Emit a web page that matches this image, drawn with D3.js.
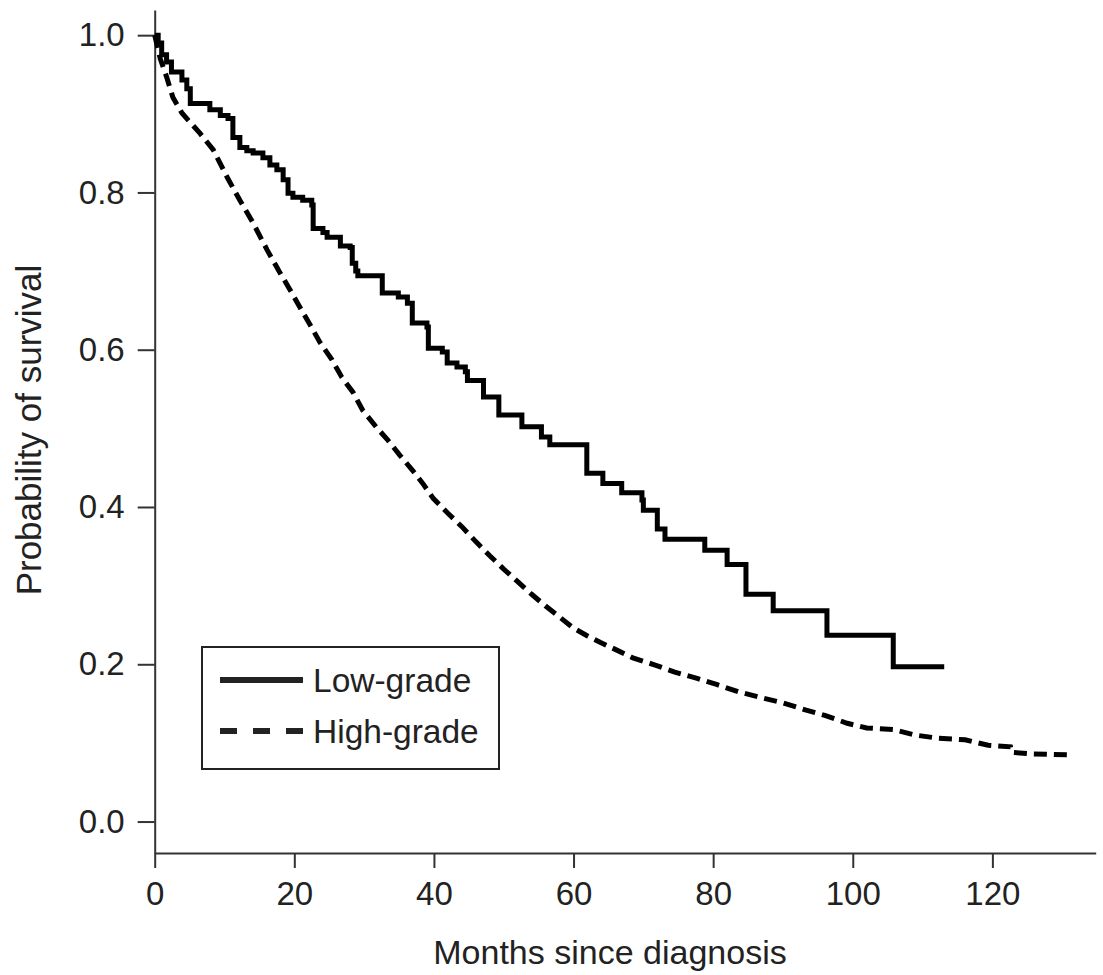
<!DOCTYPE html>
<html>
<head>
<meta charset="utf-8">
<script src="https://cdn.jsdelivr.net/npm/d3@7"></script>
<style>
  body { margin: 0; background: #fff; }
  svg text { font-family: "Liberation Sans", Arial, Helvetica, sans-serif; fill: #222; }
</style>
</head>
<body>
<div id="chart"></div>
<script>
// Kaplan-Meier steps: [months, survival]
var lowGrade = [
  [0, 1.0], [0.5, 0.99], [1.0, 0.975], [1.7, 0.966], [2.4, 0.953], [3.9, 0.943],
  [4.6, 0.932], [5.1, 0.913], [7.9, 0.905], [9.4, 0.898], [10.5, 0.894], [11.2, 0.870],
  [12.2, 0.857], [13.2, 0.853], [14.1, 0.850], [15.5, 0.844], [16.5, 0.835], [17.5, 0.829],
  [18.4, 0.816], [19.1, 0.799], [19.8, 0.794], [21.2, 0.790], [22.5, 0.784], [22.7, 0.754],
  [24.1, 0.749], [24.7, 0.743], [26.6, 0.732], [28.0, 0.730], [28.3, 0.710], [28.8, 0.700],
  [29.1, 0.694], [32.6, 0.672], [34.9, 0.667], [36.2, 0.659], [36.9, 0.634], [39.0, 0.629],
  [39.2, 0.602], [41.2, 0.597], [41.9, 0.583], [43.3, 0.578], [44.5, 0.572], [44.8, 0.561],
  [47.1, 0.540], [49.3, 0.517], [52.6, 0.502], [55.4, 0.489], [56.6, 0.479], [61.9, 0.443],
  [64.2, 0.430], [66.9, 0.418], [69.8, 0.409], [70.0, 0.396], [72.0, 0.372], [73.1, 0.359],
  [78.8, 0.345], [82.0, 0.327], [84.7, 0.289], [88.6, 0.268], [96.3, 0.237], [105.8, 0.197],
  [113.1, 0.197]
];

var highGrade = [
  [0, 1.0], [0.8, 0.97], [1.7, 0.947], [2.6, 0.921], [3.9, 0.901], [6.5, 0.875],
  [8.4, 0.854], [10.4, 0.819], [12.2, 0.790], [14.1, 0.761], [16.1, 0.727], [17.8, 0.700],
  [19.4, 0.676], [20.8, 0.654], [22.3, 0.631], [23.7, 0.609], [25.4, 0.587], [26.8, 0.565],
  [28.4, 0.546], [29.8, 0.523], [31.8, 0.501], [33.4, 0.485], [35.1, 0.466], [36.9, 0.447],
  [38.4, 0.430], [39.9, 0.411], [42, 0.392], [44, 0.375], [46, 0.356], [48, 0.338],
  [50, 0.321], [52, 0.305], [54, 0.289], [56, 0.274], [58, 0.260], [60, 0.246],
  [62, 0.236], [63.8, 0.228], [66.2, 0.218], [68.5, 0.208], [71.7, 0.199], [74.5, 0.190],
  [77.7, 0.182], [80.6, 0.174], [83.6, 0.165], [86.7, 0.158], [90.0, 0.151], [93.2, 0.142],
  [96.0, 0.135], [99.2, 0.125], [102.0, 0.119], [105.8, 0.117], [108.9, 0.110], [112.2, 0.106],
  [116.1, 0.104], [119.4, 0.097], [122.6, 0.095], [122.8, 0.088], [125.8, 0.086], [130.8, 0.085]
];

var seriesNames = ["Low-grade", "High-grade"];
var xTicks = [0, 20, 40, 60, 80, 100, 120];
var yTicks = [0.0, 0.2, 0.4, 0.6, 0.8, 1.0];

var width = 1103, height = 975;

var svg = d3.select("#chart").append("svg")
  .attr("width", width)
  .attr("height", height);

var xScale = d3.scaleLinear().domain([0, 134.8]).range([154.7, 1095.7]);
var yScale = d3.scaleLinear().domain([-0.04, 1.032]).range([853, 10]);

// x axis
var gx = svg.append("g")
  .attr("transform", "translate(0,853)")
  .call(d3.axisBottom(xScale).tickValues(xTicks).tickSize(15).tickSizeOuter(0).tickPadding(14));

// y axis
var gy = svg.append("g")
  .attr("transform", "translate(154.7,0)")
  .call(d3.axisLeft(yScale).tickValues(yTicks).tickFormat(d3.format(".1f"))
    .tickSize(17).tickSizeOuter(0).tickPadding(13));

[gx, gy].forEach(function(g) {
  g.select(".domain").attr("stroke", "#333").attr("stroke-width", 2);
  g.selectAll(".tick line").attr("stroke", "#333").attr("stroke-width", 2);
  g.selectAll(".tick text").attr("font-size", 33).attr("fill", "#222")
    .attr("font-family", "Liberation Sans, Arial, sans-serif");
});

// axis titles
svg.append("text")
  .attr("x", 610)
  .attr("y", 964)
  .attr("text-anchor", "middle")
  .attr("font-size", 34)
  .text("Months since diagnosis");

svg.append("text")
  .attr("transform", "translate(41,430) rotate(-90)")
  .attr("text-anchor", "middle")
  .attr("font-size", 35)
  .text("Probability of survival");

// curves
var stepLine = d3.line()
  .x(function(d) { return xScale(d[0]); })
  .y(function(d) { return yScale(d[1]); })
  .curve(d3.curveStepAfter);

var smoothLine = d3.line()
  .x(function(d) { return xScale(d[0]); })
  .y(function(d) { return yScale(d[1]); });

svg.append("path")
  .datum(highGrade)
  .attr("d", smoothLine)
  .attr("fill", "none")
  .attr("stroke", "#000")
  .attr("stroke-width", 5)
  .attr("stroke-dasharray", "13,7");

svg.append("path")
  .datum(lowGrade)
  .attr("d", stepLine)
  .attr("fill", "none")
  .attr("stroke", "#000")
  .attr("stroke-width", 5)
  .attr("stroke-linejoin", "miter");

// legend
var legend = svg.append("g");
legend.append("rect")
  .attr("x", 202).attr("y", 647)
  .attr("width", 297).attr("height", 122)
  .attr("fill", "#fff")
  .attr("stroke", "#222")
  .attr("stroke-width", 2);

var legendY = [680, 731];
var legendDash = [null, "17,16"];
seriesNames.forEach(function(name, i) {
  legend.append("line")
    .attr("x1", 220).attr("x2", 303)
    .attr("y1", legendY[i]).attr("y2", legendY[i])
    .attr("stroke", "#222")
    .attr("stroke-width", 6)
    .attr("stroke-dasharray", legendDash[i]);
  legend.append("text")
    .attr("x", 313)
    .attr("y", legendY[i])
    .attr("dy", "0.36em")
    .attr("font-size", 33.5)
    .text(name);
});
</script>
</body>
</html>
